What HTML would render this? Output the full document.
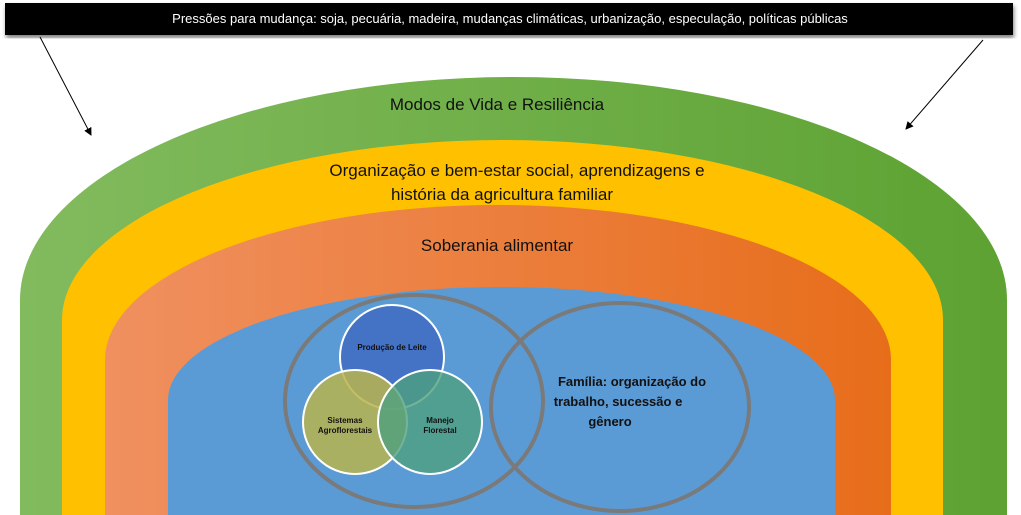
<!DOCTYPE html>
<html><head><meta charset="utf-8"><style>
html,body{margin:0;padding:0;background:#fff;width:1021px;height:515px;overflow:hidden}
text{font-family:"Liberation Sans","DejaVu Sans",sans-serif}
</style></head><body>
<svg width="1021" height="515" viewBox="0 0 1021 515" xmlns="http://www.w3.org/2000/svg">
<defs>
<linearGradient id="g" x1="0" x2="1"><stop offset="0" stop-color="#82bb5e"/><stop offset="1" stop-color="#5da232"/></linearGradient>
<linearGradient id="o" x1="0" x2="1"><stop offset="0" stop-color="#f09060"/><stop offset="1" stop-color="#e76d1a"/></linearGradient>
<filter id="sh"><feDropShadow dx="1" dy="3" stdDeviation="2" flood-opacity="0.5"/></filter>
<marker id="ar" markerWidth="8" markerHeight="8" refX="7" refY="4" orient="auto"><path d="M0,0 L8,4 L0,8 Z" fill="#000"/></marker>
</defs>
<path d="M20,515 L20,300 A493.5 223 0 0 1 1007,300 L1007,515 Z" fill="url(#g)"/>
<path d="M62,515 L62,320 A440.5 180 0 0 1 943,320 L943,515 Z" fill="#ffc000"/>
<path d="M105,515 L105,360 A393 155 0 0 1 891,360 L891,515 Z" fill="url(#o)"/>
<path d="M168,515 L168,400 A333.5 113 0 0 1 835,400 L835,515 Z" fill="#5b9bd5"/>
<rect x="5" y="3" width="1008" height="32" fill="#000" filter="url(#sh)"/>
<text x="510" y="23" fill="#fff" font-size="13" text-anchor="middle">Pressões para mudança: soja, pecuária, madeira, mudanças climáticas, urbanização, especulação, políticas públicas</text>
<line x1="40" y1="37" x2="91" y2="135" stroke="#000" stroke-width="1" marker-end="url(#ar)"/>
<line x1="983" y1="40" x2="906" y2="129" stroke="#000" stroke-width="1" marker-end="url(#ar)"/>
<text x="497" y="110" font-size="17" text-anchor="middle" fill="#111">Modos de Vida e Resiliência</text>
<text x="517" y="176" font-size="17" text-anchor="middle" fill="#111">Organização e bem-estar social, aprendizagens e</text>
<text x="502" y="200" font-size="17" text-anchor="middle" fill="#111">história da agricultura familiar</text>
<text x="497" y="251" font-size="17" text-anchor="middle" fill="#111">Soberania alimentar</text>
<circle cx="392" cy="357" r="52" fill="#4472c4" stroke="#fff" stroke-width="2"/>
<circle cx="355" cy="422" r="52" fill="#b8b44e" fill-opacity="0.85" stroke="#fff" stroke-width="2"/>
<circle cx="430" cy="422" r="52" fill="#4fa080" fill-opacity="0.8" stroke="#fff" stroke-width="2"/>
<text x="392" y="350" font-size="8" font-weight="bold" text-anchor="middle" fill="#111">Produção de Leite</text>
<text x="345" y="423" font-size="8" font-weight="bold" text-anchor="middle" fill="#111">Sistemas</text>
<text x="345" y="433" font-size="8" font-weight="bold" text-anchor="middle" fill="#111">Agroflorestais</text>
<text x="440" y="423" font-size="8" font-weight="bold" text-anchor="middle" fill="#111">Manejo</text>
<text x="440" y="433" font-size="8" font-weight="bold" text-anchor="middle" fill="#111">Florestal</text>
<ellipse cx="414" cy="401" rx="129" ry="106" fill="none" stroke="#7a7a7a" stroke-width="4"/>
<ellipse cx="620" cy="407" rx="129" ry="104" fill="none" stroke="#7a7a7a" stroke-width="4"/>
<text x="632" y="386" font-size="13" font-weight="bold" text-anchor="middle" fill="#111">Família: organização do</text>
<text x="618" y="406" font-size="13" font-weight="bold" text-anchor="middle" fill="#111">trabalho, sucessão e</text>
<text x="610" y="426" font-size="13" font-weight="bold" text-anchor="middle" fill="#111">gênero</text>
</svg>
</body></html>
